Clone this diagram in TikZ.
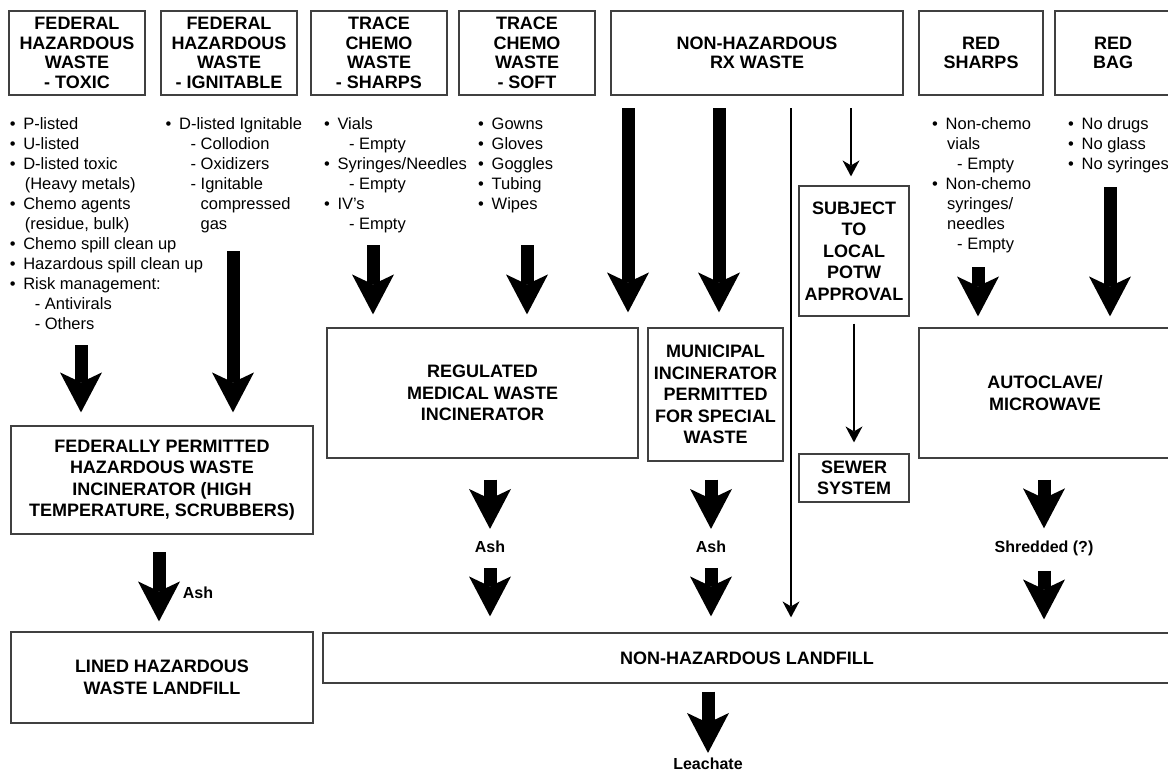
\documentclass[tikz,border=0pt]{standalone}
\usepackage{fontspec}
\setmainfont{Liberation Sans}
\usetikzlibrary{arrows.meta}
\newcommand{\lsitem}{\rule{0pt}{12pt}\makebox[13.5pt][l]{\textbullet}}
\newcommand{\lscont}{\hspace*{15pt}}
\newcommand{\lsdash}{\hspace*{25pt}- }
\begin{document}
\begin{tikzpicture}[x=1pt,y=-1pt,
    box/.style={draw=black!75, line width=1.2pt, align=center, inner sep=0pt,
      font=\bfseries\fontsize{18}{21.5}\selectfont},
    hbox/.style={box, minimum height=84pt, font=\bfseries\fontsize{18}{19.5}\selectfont},
    list/.style={anchor=north west, align=left, inner sep=0pt,
      font=\fontsize{16.5}{20}\selectfont},
    lbl/.style={inner sep=0pt, font=\bfseries\fontsize{16}{19}\selectfont},
    bigarrow/.style={line width=13pt,
      -{Stealth[length=40pt, width=42pt, inset=10pt, line width'=0pt]}},
    thinarrow/.style={line width=2.5pt,
      -{Stealth[length=16pt, width=17pt, inset=5pt, line width'=0pt]}}]
  \useasboundingbox (0,0) rectangle (1168,772);
  % waste streams
  \node[hbox, minimum width=136pt] (toxic) at (77,53) {FEDERAL\\HAZARDOUS\\WASTE\\- TOXIC};
  \node[hbox, minimum width=136pt] (ignit) at (229,53) {FEDERAL\\HAZARDOUS\\WASTE\\- IGNITABLE};
  \node[hbox, minimum width=136pt] (tcsharp) at (379,53) {TRACE\\CHEMO\\WASTE\\- SHARPS};
  \node[hbox, minimum width=136pt] (tcsoft) at (527,53) {TRACE\\CHEMO\\WASTE\\- SOFT};
  \node[hbox, minimum width=292pt] (rx) at (757,53) {NON-HAZARDOUS\\RX WASTE};
  \node[hbox, minimum width=124pt] (redsharp) at (981,53) {RED\\SHARPS};
  \node[hbox, minimum width=116pt] (redbag) at (1113,53) {RED\\BAG};
  % contents
  \node[list] (toxlist) at (9.6,117) {\lsitem P-listed\\ \lsitem U-listed\\
    \lsitem D-listed toxic\\ \lscont(Heavy metals)\\ \lsitem Chemo agents\\
    \lscont(residue, bulk)\\ \lsitem Chemo spill clean up\\
    \lsitem Hazardous spill clean up\\ \lsitem Risk management:\\
    \lsdash Antivirals\\ \lsdash Others};
  \node[list] (ignlist) at (165.4,117) {\lsitem D-listed Ignitable\\
    \lsdash Collodion\\ \lsdash Oxidizers\\ \lsdash Ignitable\\
    \hspace*{35pt}compressed\\ \hspace*{35pt}gas};
  \node[list] (sharplist) at (323.8,117) {\lsitem Vials\\ \lsdash Empty\\
    \lsitem Syringes/Needles\\ \lsdash Empty\\ \lsitem IV’s\\ \lsdash Empty};
  \node[list] (softlist) at (478,117) {\lsitem Gowns\\ \lsitem Gloves\\
    \lsitem Goggles\\ \lsitem Tubing\\ \lsitem Wipes};
  \node[list] (redlist) at (932,117) {\lsitem Non-chemo\\ \lscont vials\\
    \lsdash Empty\\ \lsitem Non-chemo\\ \lscont syringes/\\ \lscont needles\\
    \lsdash Empty};
  \node[list] (baglist) at (1068,117) {\lsitem No drugs\\ \lsitem No glass\\
    \lsitem No syringes};
  % treatment
  \node[box, minimum width=302pt, minimum height=108pt] (fedinc) at (162,480)
    {FEDERALLY PERMITTED\\HAZARDOUS WASTE\\INCINERATOR (HIGH\\TEMPERATURE, SCRUBBERS)};
  \node[box, minimum width=311pt, minimum height=130pt] (regin) at (482.5,393)
    {REGULATED\\MEDICAL WASTE\\INCINERATOR};
  \node[box, minimum width=135pt, minimum height=133pt] (munin) at (715.5,394.5)
    {MUNICIPAL\\INCINERATOR\\PERMITTED\\FOR SPECIAL\\WASTE};
  \node[box, minimum width=110pt, minimum height=130pt] (potw) at (854,251)
    {SUBJECT\\TO\\LOCAL\\POTW\\APPROVAL};
  \node[box, minimum width=110pt, minimum height=48pt] (sewer) at (854,478)
    {SEWER\\SYSTEM};
  \node[box, minimum width=252pt, minimum height=130pt] (auto) at (1045,393)
    {AUTOCLAVE/\\MICROWAVE};
  % disposal
  \node[box, minimum width=302pt, minimum height=91pt] (lined) at (162,677.5)
    {LINED HAZARDOUS\\WASTE LANDFILL};
  \node[box, minimum width=848pt, minimum height=50pt] (landfill) at (747,658)
    {NON-HAZARDOUS LANDFILL};
  \node[lbl] (ash0) at (198,593) {Ash};
  \node[lbl] (ash1) at (490,547) {Ash};
  \node[lbl] (ash2) at (711,547) {Ash};
  \node[lbl] (shred) at (1044,548) {Shredded (?)};
  \node[lbl] (leach) at (708,764) {Leachate};
  % flows
  \coordinate (t1) at (81,345);
  \coordinate (t2) at (233,251);
  \coordinate (s1) at (373,245);
  \coordinate (s2) at (527,245);
  \coordinate (r1) at (628,108);
  \coordinate (r2) at (719,108);
  \coordinate (r3) at (791,108);
  \coordinate (r4) at (851,108);
  \coordinate (k1) at (978,267);
  \coordinate (k2) at (1110,187);
  \coordinate (f1) at (159,552);
  \draw[bigarrow, shorten >=13pt] (t1) -- (t1 |- fedinc.north);
  \draw[bigarrow, shorten >=13pt] (t2) -- (t2 |- fedinc.north);
  \draw[bigarrow, shorten >=13pt] (s1) -- (s1 |- regin.north);
  \draw[bigarrow, shorten >=13pt] (s2) -- (s2 |- regin.north);
  \draw[bigarrow, shorten >=15pt] (r1) -- (r1 |- regin.north);
  \draw[bigarrow, shorten >=15pt] (r2) -- (r2 |- munin.north);
  \draw[thinarrow, shorten >=15pt] (r3) -- (r3 |- landfill.north);
  \draw[thinarrow, shorten >=9pt] (r4) -- (r4 |- potw.north);
  \draw[thinarrow, shorten <=7pt, shorten >=11pt] (potw.south) -- (sewer.north);
  \draw[bigarrow, shorten >=11pt] (k1) -- (k1 |- auto.north);
  \draw[bigarrow, shorten >=11pt] (k2) -- (k2 |- auto.north);
  \draw[bigarrow, shorten >=10pt] (f1) -- (f1 |- lined.north);
  \draw[bigarrow, shorten <=21pt, shorten >=12pt] (ash1 |- regin.south) -- (ash1.north);
  \draw[bigarrow, shorten <=15pt, shorten >=16pt] (ash1.south) -- (ash1 |- landfill.north);
  \draw[bigarrow, shorten <=18pt, shorten >=12pt] (ash2 |- munin.south) -- (ash2.north);
  \draw[bigarrow, shorten <=15pt, shorten >=16pt] (ash2.south) -- (ash2 |- landfill.north);
  \draw[bigarrow, shorten <=21pt, shorten >=12pt] (shred |- auto.south) -- (shred.north);
  \draw[bigarrow, shorten <=15pt, shorten >=13pt] (shred.south) -- (shred |- landfill.north);
  \draw[bigarrow, shorten <=8pt, shorten >=5pt] (leach |- landfill.south) -- (leach.north);
\end{tikzpicture}
\end{document}
